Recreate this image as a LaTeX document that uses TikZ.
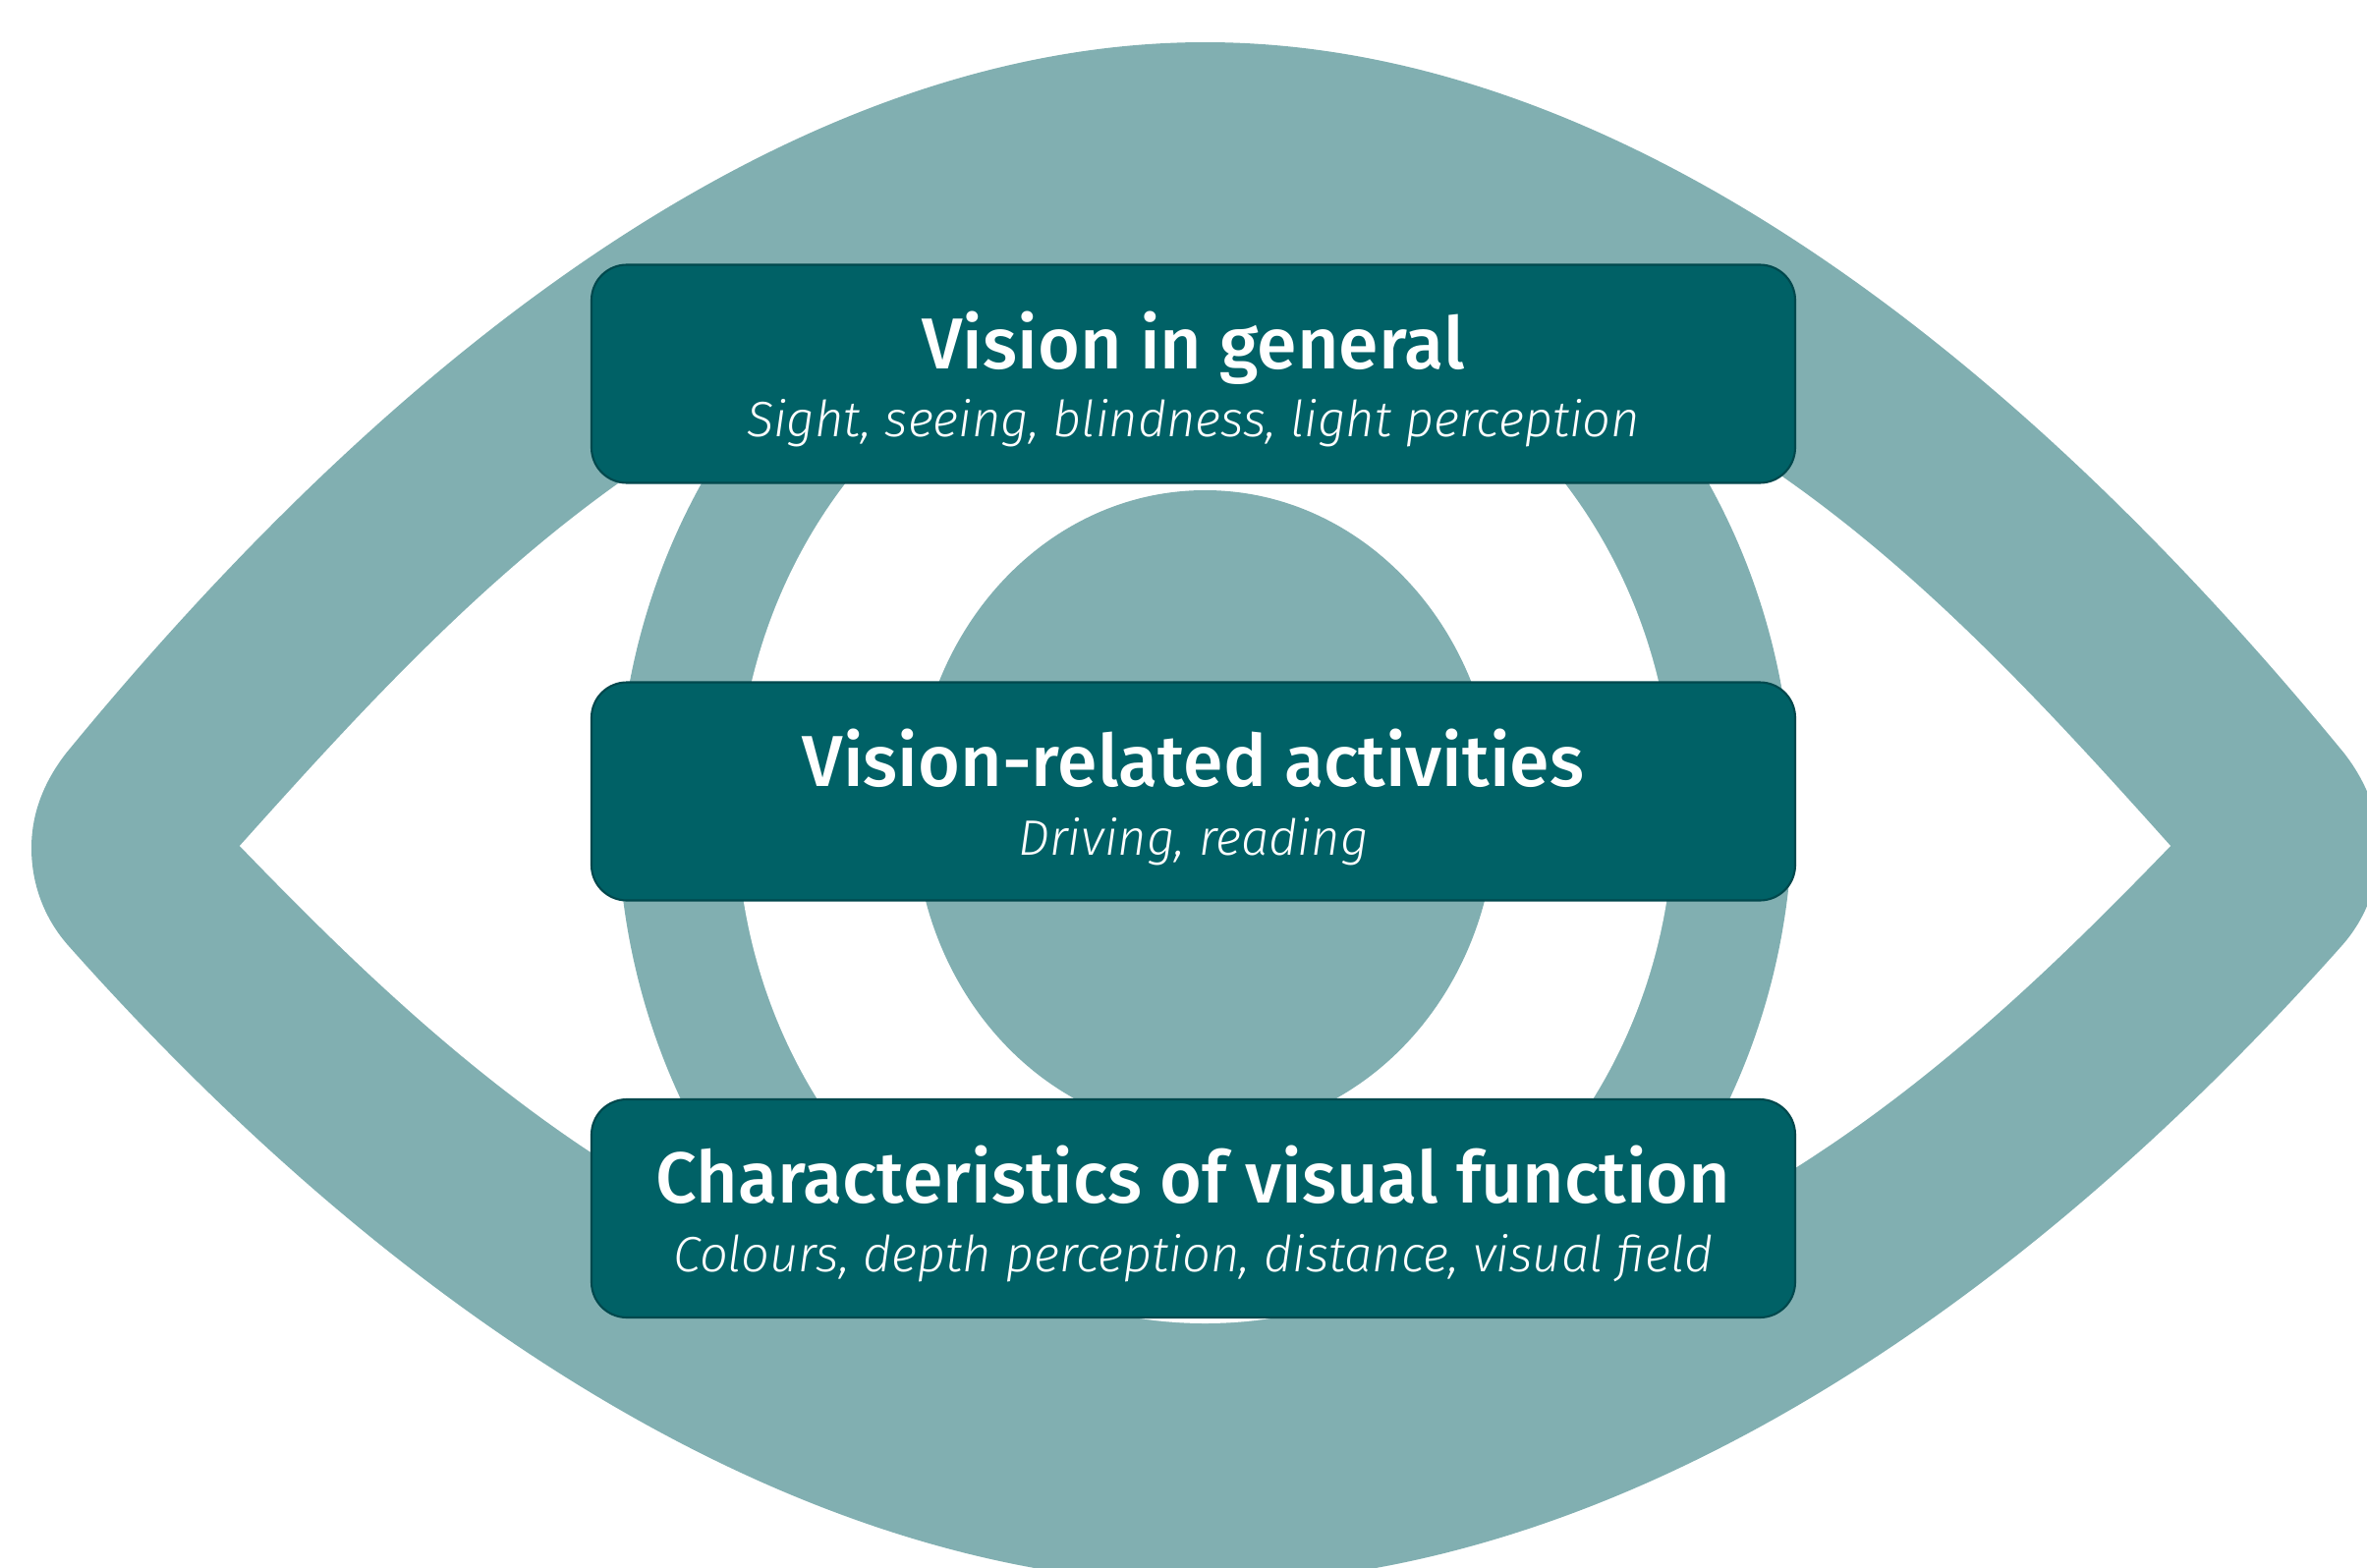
\documentclass[tikz,border=0pt]{standalone}
\usepackage{fontspec}
\usepackage{xcolor}
\usepackage{tikz}
\newfontfamily\headfont{Fira Sans Medium}
\newfontfamily\notefont{Fira Sans Light Italic}
\newcommand{\leveltext}[2]{\rule{0pt}{20.8pt}{\headfont\fontsize{20.9}{24}\selectfont #1}\\
  {\notefont\fontsize{14.4}{18}\selectfont #2}\rule[-4pt]{0pt}{4pt}}

\begin{document}
\begin{tikzpicture}[
    level/.style={draw=boxlineC, fill=boxC, rectangle, rounded corners=0.36cm, line width=0.6pt,
                  minimum width=12.25cm, minimum height=2.22cm, text=white, align=center,
                  font=\fontsize{15}{19.9}\selectfont},
]

% Color definitions
\definecolor{eyeC}{RGB}{129,175,177}
\definecolor{boxC}{RGB}{0,97,102}
\definecolor{boxlineC}{RGB}{0,72,77}

\useasboundingbox (0,0) rectangle (24.09,-15.96);
\clip (0,0) rectangle (24.09,-15.96);

% Eye outline
\fill[eyeC] (0.67,-7.67) .. controls (4.50,-3.00) and (8.50,-0.43) .. (12.265,-0.43)
  .. controls (16.03,-0.43) and (20.03,-3.00) .. (23.86,-7.67)
  .. controls (24.13,-8.02) and (24.21,-8.35) .. (24.21,-8.63)
  .. controls (24.21,-9.00) and (24.08,-9.35) .. (23.83,-9.63)
  .. controls (20.03,-13.90) and (15.93,-16.12) .. (12.265,-16.12)
  .. controls (8.60,-16.12) and (4.50,-13.90) .. (0.70,-9.63)
  .. controls (0.45,-9.35) and (0.32,-9.00) .. (0.32,-8.63)
  .. controls (0.32,-8.35) and (0.40,-8.02) .. (0.67,-7.67) -- cycle;
\fill[white] (2.44,-8.61) .. controls (5.00,-5.75) and (7.60,-3.00) .. (12.265,-3.00)
  .. controls (16.93,-3.00) and (19.53,-5.75) .. (22.09,-8.61)
  .. controls (19.83,-10.95) and (16.93,-13.65) .. (12.265,-13.65)
  .. controls (7.60,-13.65) and (4.70,-10.95) .. (2.44,-8.61) -- cycle;

% Iris and pupil
\fill[eyeC] (12.265,-8.26) ellipse [x radius=5.98, y radius=6.48];
\fill[white] (12.265,-8.26) ellipse [x radius=4.77, y radius=5.21];
\fill[eyeC] (12.265,-8.26) ellipse [x radius=2.96, y radius=3.27];

% Levels
\node[level] (general) at (12.145,-3.805)
  {\leveltext{Vision in general}{Sight, seeing, blindness, light perception}};
\node[level] (activities) at (12.145,-8.055)
  {\leveltext{Vision-related activities}{Driving, reading}};
\node[level] (function) at (12.145,-12.30)
  {\leveltext{Characteristics of visual function}{Colours, depth perception, distance, visual field}};

\end{tikzpicture}
\end{document}
